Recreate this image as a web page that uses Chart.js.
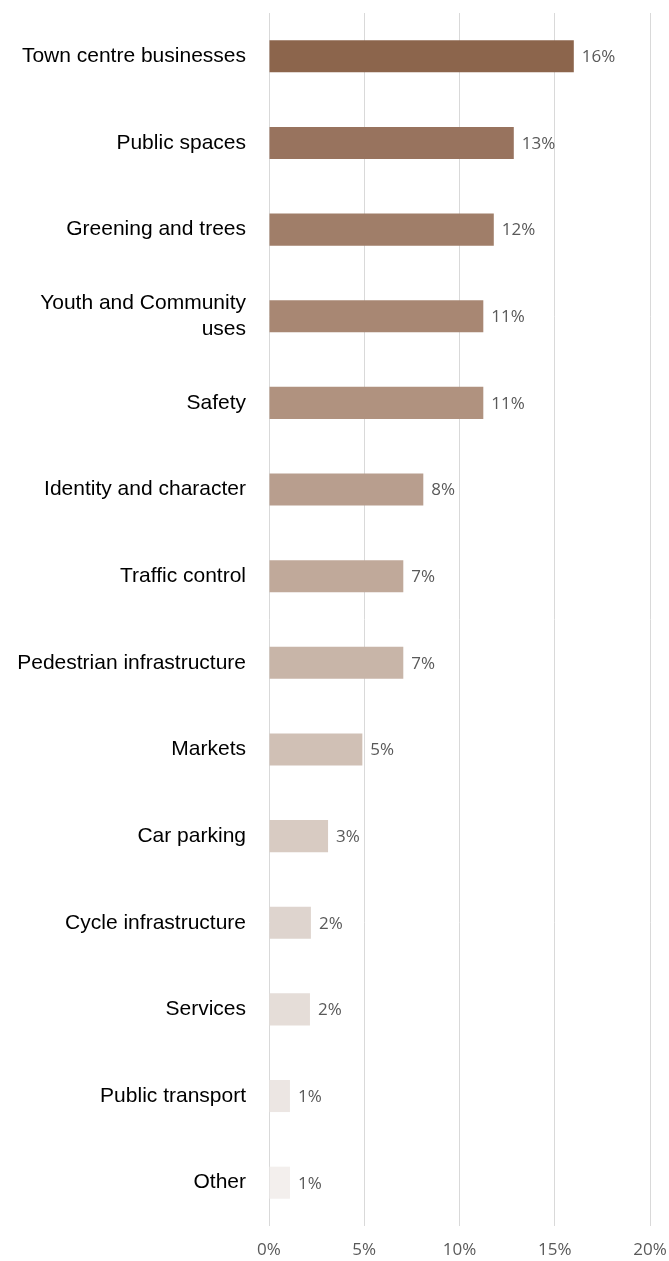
<!DOCTYPE html>
<html>
<head>
<meta charset="utf-8">
<script src="https://cdn.jsdelivr.net/npm/chart.js@4/dist/chart.umd.min.js"></script>
<style>
  html, body { margin: 0; padding: 0; background: #fff; }
  #wrap { width: 669px; height: 1261px; position: relative; }
</style>
</head>
<body>
<div id="wrap"><canvas id="themesChart"></canvas></div>
<script>
var categories = [
    'Town centre businesses',
    'Public spaces',
    'Greening and trees',
    ['Youth and Community', 'uses'],
    'Safety',
    'Identity and character',
    'Traffic control',
    'Pedestrian infrastructure',
    'Markets',
    'Car parking',
    'Cycle infrastructure',
    'Services',
    'Public transport',
    'Other'
];
var shares = [16.0, 12.85, 11.8, 11.25, 11.25, 8.1, 7.05, 7.05, 4.9, 3.1, 2.2, 2.15, 1.1, 1.1];
var tickLabels = ['0%', '5%', '10%', '15%', '20%'];

var barColours = [
    '#8C654C', '#98735E', '#A07E69', '#A88773', '#B0927F', '#B89E8E', '#C0A99A',
    '#C8B5A8', '#D0C0B5', '#D8CBC2', '#DED4CE', '#E5DDD8', '#ECE6E3', '#F3EFED'
];

// draws the "16%" style labels to the right of each bar
var valueLabels = {
    id: 'valueLabels',
    afterDatasetsDraw: function(chart) {
        var ctx = chart.ctx;
        var meta = chart.getDatasetMeta(0);
        ctx.save();
        ctx.font = '17px "Open Sans", sans-serif';
        ctx.fillStyle = '#595959';
        ctx.textAlign = 'left';
        ctx.textBaseline = 'middle';
        meta.data.forEach(function(bar, i) {
            ctx.fillText(Math.round(shares[i]) + '%', bar.x + 8, bar.y + 1);
        });
        ctx.restore();
    }
};

// stop the axes from pushing the plot area in for their label overhang
function noOverhang(scale) {
    scale.paddingTop = 0;
    scale.paddingBottom = 0;
    scale.paddingLeft = 0;
    scale.paddingRight = 0;
}

var ctx = document.getElementById('themesChart').getContext('2d');
var chart = new Chart(ctx, {
    type: 'bar',
    data: {
        labels: categories,
        datasets: [{
            data: shares,
            backgroundColor: barColours,
            borderWidth: 0,
            barPercentage: 0.37,
            categoryPercentage: 1
        }]
    },
    options: {
        indexAxis: 'y',
        responsive: true,
        maintainAspectRatio: false,
        animation: false,
        layout: {
            padding: { top: 13, right: 19, bottom: 0, left: 0 }
        },
        scales: {
            x: {
                min: 0,
                max: 20,
                afterFit: function(scale) {
                    noOverhang(scale);
                    scale.height = 35;
                },
                ticks: {
                    stepSize: 5,
                    padding: 14,
                    color: '#595959',
                    font: { family: '"Open Sans", sans-serif', size: 17 },
                    callback: function(v, i) { return tickLabels[i]; }
                },
                grid: { color: '#D9D9D9', lineWidth: 1, drawTicks: false },
                border: { display: false }
            },
            y: {
                afterFit: function(scale) {
                    noOverhang(scale);
                    scale.width = 269;
                },
                ticks: {
                    padding: 23,
                    color: '#000000',
                    font: { family: '"Liberation Sans", Arial, sans-serif', size: 21, lineHeight: 1.2 }
                },
                grid: { display: false, drawTicks: false },
                border: { display: false }
            }
        },
        plugins: {
            legend: { display: false },
            tooltip: { enabled: false },
            title: { display: false }
        }
    },
    plugins: [valueLabels]
});
</script>
</body>
</html>
